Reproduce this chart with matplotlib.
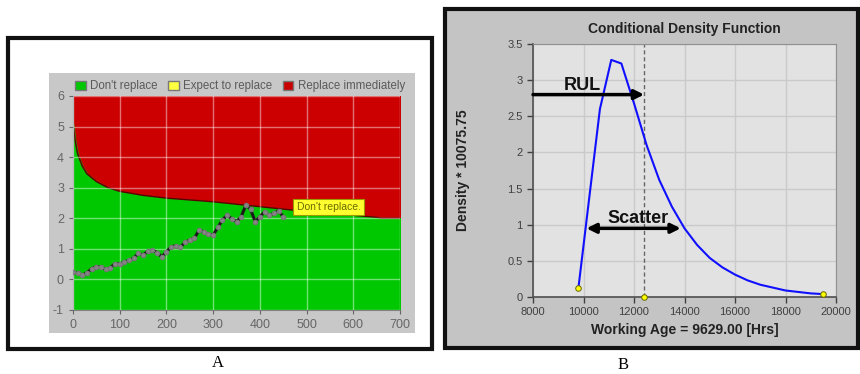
import matplotlib.pyplot as plt
from matplotlib.patches import Rectangle, Patch

plt.rcParams['font.family'] = ['Liberation Sans', 'DejaVu Sans']
plt.rcParams['axes.unicode_minus'] = False

# Panel A: replacement decision chart
bound_x = [0, 5, 10, 20, 30, 50, 75, 100, 150, 200, 250, 300, 350, 400, 450,
           500, 550, 600, 650, 660, 700]
bound_y = [5.1, 4.5, 4.1, 3.7, 3.45, 3.2, 3.0, 2.88, 2.75, 2.66, 2.6, 2.54, 2.46,
           2.38, 2.3, 2.22, 2.16, 2.1, 2.03, 2.0, 2.0]
obs_x = list(range(0, 460, 10))
obs_y = [0.25, 0.2, 0.14, 0.22, 0.35, 0.42, 0.40, 0.33, 0.38, 0.52, 0.50, 0.58,
         0.62, 0.70, 0.85, 0.80, 0.92, 0.96, 0.88, 0.74, 0.90, 1.07, 1.10, 1.05,
         1.22, 1.29, 1.35, 1.62, 1.55, 1.48, 1.45, 1.70, 1.95, 2.10, 1.98, 1.89,
         2.05, 2.43, 2.30, 1.89, 2.05, 2.21, 2.10, 2.16, 2.25, 2.05]
legend_labels = ["Don't replace", "Expect to replace", "Replace immediately"]
legend_colors = ['#00c800', '#ffff40', '#c80000']
note_text = "Don't replace."
note_pos = (547, 2.38)

# Panel B: conditional density
age = [9800, 10650, 11100, 11500, 12000, 12500, 13000, 13500, 14000, 14500,
       15000, 15500, 16000, 16500, 17000, 17500, 18000, 18500, 19000, 19500]
density = [0.13, 2.6, 3.28, 3.23, 2.68, 2.1, 1.62, 1.25, 0.95, 0.72, 0.54, 0.41,
           0.31, 0.23, 0.17, 0.13, 0.09, 0.07, 0.05, 0.04]
current_age = 12400
rul_y = 2.8
scatter_x = (10120, 13850)
scatter_y = 0.95

W, H = 860, 374
fig = plt.figure(figsize=(8.6, 3.74), dpi=100)


def frac(x0, y0, x1, y1):
    # pixel box (top-left origin) -> figure fraction rect
    return [x0 / W, 1 - y1 / H, (x1 - x0) / W, (y1 - y0) / H]


def box(x0, y0, x1, y1, **kw):
    l, b, w, h = frac(x0, y0, x1, y1)
    fig.add_artist(Rectangle((l, b), w, h, transform=fig.transFigure,
                             zorder=-5, **kw))


# ---- panel A ----
box(8, 38, 432, 349, facecolor='white', edgecolor='#111111', lw=3)
box(49, 73, 415, 333, facecolor='#c8c8c8', edgecolor='none')
ax = fig.add_axes(frac(73, 96, 400, 310))
ax.fill_between(bound_x, bound_y, 6, color='#cc0000', zorder=1)
ax.fill_between(bound_x, -1, bound_y, color='#00c800', zorder=1)
ax.plot(bound_x, bound_y, color='#5a0000', lw=1, zorder=2)
ax.grid(True, color='white', alpha=0.45, lw=1)
ax.set_axisbelow(False)
ax.plot(obs_x, obs_y, color='#1a1a1a', lw=2.2, marker='o', ms=3,
        mfc='#888888', mec='#777777', zorder=4)
ax.text(note_pos[0], note_pos[1], note_text, fontsize=7.5, color='#6a6a00',
        ha='center', va='center', zorder=5,
        bbox=dict(boxstyle='square,pad=0.3', fc='#ffff30', ec='#999900', lw=0.8))
ax.set_xlim(0, 700)
ax.set_ylim(-1, 6)
ax.set_xticks(range(0, 701, 100))
ax.set_yticks(range(-1, 7))
ax.tick_params(labelsize=9, colors='#666666', length=3)
for s in ['top', 'right']:
    ax.spines[s].set_visible(False)
for s in ['left', 'bottom']:
    ax.spines[s].set_color('#808080')
handles = [Patch(facecolor=c, edgecolor='#777777') for c in legend_colors]
ax.legend(handles, legend_labels, loc='lower left', bbox_to_anchor=(-0.01, 0.99),
          ncol=3, frameon=False, fontsize=8.3, handlelength=0.9, handleheight=0.9,
          handletextpad=0.4, columnspacing=0.9, borderaxespad=0.1,
          labelcolor='#5a5a5a')
fig.text(218 / W, 1 - 363 / H, 'A', family='Liberation Serif', fontsize=12,
         ha='center', va='center')

# ---- panel B ----
box(445, 9, 858, 348, facecolor='#c4c4c4', edgecolor='#111111', lw=3)
bx = fig.add_axes(frac(533, 44, 836, 297))
bx.set_facecolor('#e2e2e2')
bx.grid(True, color='#cacaca', lw=1)
bx.set_axisbelow(True)
bx.plot(age, density, color='#1010ff', lw=1.5, zorder=3)
bx.plot([age[0], current_age, age[-1]], [density[0], 0, density[-1]], 'o',
        ms=4, mfc='#ffff00', mec='#666600', mew=0.7, clip_on=False, zorder=5)
bx.axvline(current_age, color='#666666', lw=1, ls=(0, (3, 2)), zorder=2)
bx.annotate('', xy=(current_age, rul_y), xytext=(8000, rul_y),
            arrowprops=dict(arrowstyle='-|>', lw=2.5, color='black',
                            mutation_scale=14, shrinkA=0, shrinkB=0), zorder=4)
bx.text(9970, 2.93, 'RUL', fontsize=13, fontweight='bold', ha='center',
        va='center', color='#111111')
bx.annotate('', xy=(scatter_x[1], scatter_y), xytext=(scatter_x[0], scatter_y),
            arrowprops=dict(arrowstyle='<|-|>', lw=2.5, color='black',
                            mutation_scale=14, shrinkA=0, shrinkB=0), zorder=4)
bx.text(12150, 1.08, 'Scatter', fontsize=13, fontweight='bold', ha='center',
        va='center', color='#111111')
bx.set_xlim(8000, 20000)
bx.set_ylim(0, 3.5)
bx.set_xticks(range(8000, 20001, 2000))
bx.set_yticks([0, 0.5, 1, 1.5, 2, 2.5, 3, 3.5])
bx.set_yticklabels(['0', '0.5', '1', '1.5', '2', '2.5', '3', '3.5'])
bx.tick_params(labelsize=8, colors='#404040', length=4, width=1)
for s in bx.spines.values():
    s.set_color('#909090')
for s in ['left', 'bottom']:
    bx.spines[s].set_color('#505050')
    bx.spines[s].set_linewidth(1.2)
bx.set_title('Conditional Density Function', fontsize=10, fontweight='bold',
             color='#222222', pad=8)
bx.set_xlabel('Working Age = 9629.00 [Hrs]', fontsize=10, fontweight='bold',
              color='#222222', labelpad=4)
bx.set_ylabel('Density * 10075.75', fontsize=10, fontweight='bold',
              color='#222222', labelpad=27)
fig.text(623 / W, 1 - 365 / H, 'B', family='Liberation Serif', fontsize=12,
         ha='center', va='center')

fig.savefig('out.png', dpi=100)
